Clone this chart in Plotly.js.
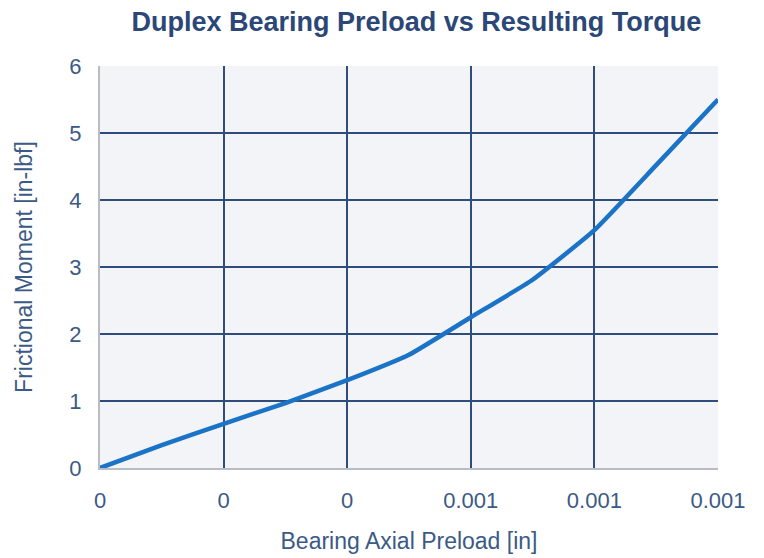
<!DOCTYPE html>
<html>
<head>
<meta charset="utf-8">
<script src="https://cdn.plot.ly/plotly-3.0.1.min.js"></script>
<style>
  html, body { margin: 0; padding: 0; background: #ffffff; }
  #chart { width: 764px; height: 558px; }
</style>
</head>
<body>
<div id="chart"></div>
<script>
// Bearing axial preload [in]
const preload = [0, 0.0001, 0.0002, 0.0003, 0.0004, 0.0005, 0.0006, 0.0007, 0.0008, 0.0009, 0.001];
// Frictional moment [in-lbf]
const moment = [0, 0.34, 0.66, 0.97, 1.31, 1.69, 2.25, 2.81, 3.55, 4.52, 5.5];

const xTickVals = [0, 0.0002, 0.0004, 0.0006, 0.0008, 0.001];
const xTickText = ['0', '0', '0', '0.001', '0.001', '0.001'];
const yTickVals = [0, 1, 2, 3, 4, 5, 6];

const navy = '#2e4d7c';
const labelColor = '#3b5a85';
const fontFam = '"Liberation Sans", Arial, sans-serif';

const trace = {
  x: preload,
  y: moment,
  type: 'scatter',
  mode: 'lines',
  line: { color: '#1a73c7', width: 4.5, shape: 'spline', smoothing: 0.4 },
  hoverinfo: 'skip'
};

const layout = {
  width: 764,
  height: 558,
  margin: { l: 100, r: 46, t: 66, b: 90 },
  paper_bgcolor: '#ffffff',
  plot_bgcolor: '#f3f4f7',
  showlegend: false,
  font: { family: fontFam, color: labelColor },
  title: {
    text: '<b>Duplex Bearing Preload vs Resulting Torque</b>',
    font: { family: fontFam, size: 27, color: '#2b4777' },
    x: 0.545, xanchor: 'center',
    y: 0.962, yanchor: 'middle'
  },
  xaxis: {
    range: [0, 0.001],
    tickvals: xTickVals,
    ticktext: xTickText,
    showgrid: true,
    gridcolor: navy,
    gridwidth: 2,
    zeroline: false,
    showline: true,
    linecolor: '#b8bcc4',
    linewidth: 2,
    ticks: '',
    ticklabelstandoff: 12,
    tickfont: { size: 22, color: labelColor, family: fontFam },
    title: {
      text: 'Bearing Axial Preload [in]',
      font: { size: 23, color: labelColor, family: fontFam },
      standoff: 20
    },
    fixedrange: true
  },
  yaxis: {
    range: [0, 6],
    tickvals: yTickVals,
    showgrid: true,
    gridcolor: navy,
    gridwidth: 2,
    zeroline: false,
    showline: true,
    linecolor: '#b8bcc4',
    linewidth: 2,
    ticks: '',
    ticklabelstandoff: 12,
    tickfont: { size: 22, color: labelColor, family: fontFam },
    title: {
      text: 'Frictional Moment [in-lbf]',
      font: { size: 23, color: labelColor, family: fontFam },
      standoff: 30
    },
    fixedrange: true
  }
};

Plotly.newPlot('chart', [trace], layout, { displayModeBar: false, staticPlot: true });
</script>
</body>
</html>
